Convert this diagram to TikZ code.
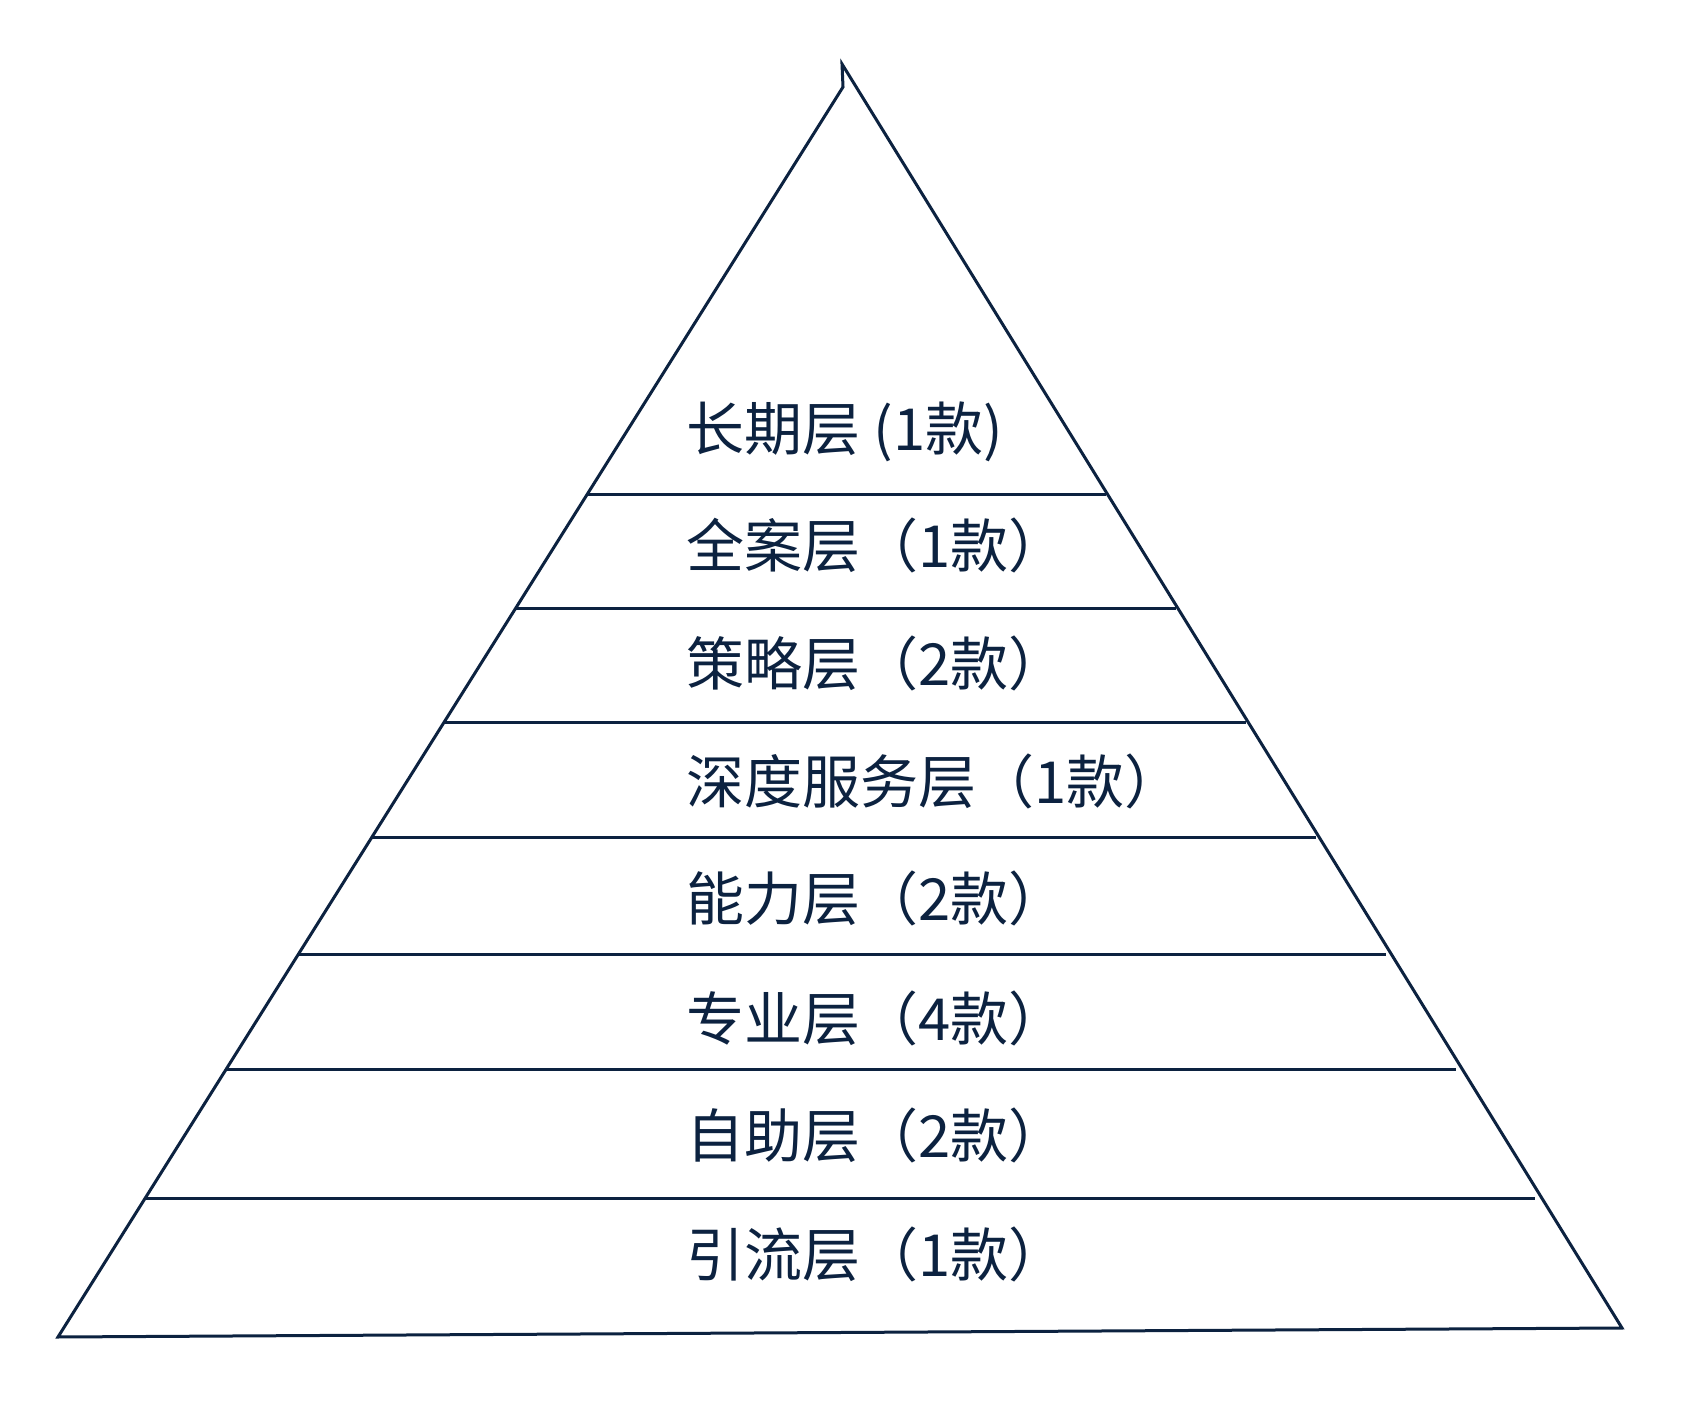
\documentclass[tikz,border=0pt]{standalone}
\usepackage{fontspec}
\newfontfamily\cjk{Noto Sans CJK SC}
\definecolor{navy}{RGB}{12,34,64}
\begin{document}
\begin{tikzpicture}[x=0.5pt,y=-0.5pt,
  edge/.style={draw=navy,line width=1.5pt,line join=miter},
  layerline/.style={draw=navy,line width=1.5pt},
  label/.style={anchor=base west,inner sep=0pt,text=navy,font=\cjk\fontsize{29pt}{34pt}\selectfont}]
\useasboundingbox[fill=white] (0,0) rectangle (1703,1416);
% triangle corners
\coordinate (tip) at (842,64);
\coordinate (apex) at (843,87);
\coordinate (bl) at (58,1337);
\coordinate (br) at (1622,1328);
\draw[edge] (tip) -- (apex) -- (bl) -- (br) -- cycle;
% layer lines
\foreach \i/\y/\xl/\xr in {1/495/587/1106, 2/609/516/1176, 3/723/444/1246, 4/838/372/1316, 5/954/299/1386, 6/1069/227/1456, 7/1198/146/1535}{
  \coordinate (l\i) at (\xl,\y);
  \coordinate (r\i) at (\xr,\y);
  \draw[layerline] (l\i) -- (r\i);
}
% labels
\node[label] (t1) at (686,451) {长期层 (1款)};
\node[label] (t2) at (686,568) {全案层（1款）};
\node[label] (t3) at (686,686) {策略层（2款）};
\node[label] (t4) at (686,804) {深度服务层（1款）};
\node[label] (t5) at (686,921) {能力层（2款）};
\node[label] (t6) at (686,1040) {专业层（4款）};
\node[label] (t7) at (686,1157) {自助层（2款）};
\node[label] (t8) at (686,1276) {引流层（1款）};
\end{tikzpicture}
\end{document}
